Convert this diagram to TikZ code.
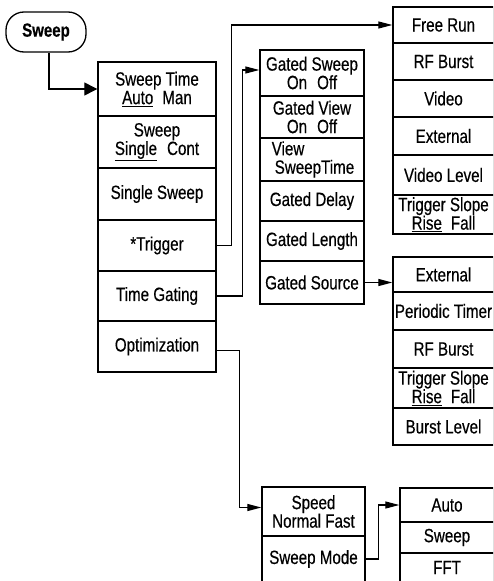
\documentclass[tikz,border=0pt]{standalone}
\usepackage{fontspec}
\setmainfont{Liberation Sans}[FakeStretch=0.79,FakeBold=0.4]
\usetikzlibrary{arrows.meta}
\begin{document}
\begin{tikzpicture}[x=1pt,y=-1pt,
  box/.style={draw, line width=1.4pt, inner sep=0pt, align=center,
    font=\fontsize{19.2}{18.5}\selectfont},
  cA/.style={box, minimum width=118pt},
  cB/.style={box, minimum width=104pt},
  cC/.style={box, minimum width=101pt},
  cD/.style={box, minimum width=103pt},
  cE/.style={box, minimum width=94pt},
  conn/.style={line width=1.2pt, -{Triangle[length=14pt,width=7pt]}},
  bigconn/.style={line width=1.3pt, -{Triangle[length=13pt,width=13pt]}}]
\useasboundingbox (0,0) rectangle (493,581);
\clip (0,0) rectangle (493,581);

% root
\node[draw, line width=1.3pt, rounded corners=18pt, minimum width=80pt,
  minimum height=40pt, inner sep=0pt,
  font=\bfseries\fontsize{19}{18}\selectfont] (sweep) at (46,32) {Sweep};

% column 1
\node[cA, minimum height=54pt] (st) at (157,89) {Sweep Time\\\underline{Auto}\hspace{9pt}Man};
\node[cA, minimum height=52pt] (sw) at (157,142) {Sweep\\\underline{Single}\hspace{10pt}Cont};
\node[cA, minimum height=52pt] (ss) at (157,194) {Single Sweep};
\node[cA, minimum height=51pt] (tr) at (157,245.5) {*Trigger};
\node[cA, minimum height=50pt] (tg) at (157,296) {Time Gating};
\node[cA, minimum height=51pt] (op) at (157,346.5) {Optimization};

% column 2 (gating)
\node[cB, minimum height=46pt] (gs) at (312,73) {Gated Sweep\\On\hspace{10pt}Off};
\node[cB, minimum height=42pt] (gv) at (312,117) {Gated View\\On\hspace{10pt}Off};
\node[cB, minimum height=43pt, align=left] (vst) at (312,159.5) {\hspace*{2pt}View\\\hspace*{5pt}SweepTime};
\node[cB, minimum height=40pt] (gd) at (312,201) {Gated Delay};
\node[cB, minimum height=40pt] (gl) at (312,241) {Gated Length};
\node[cB, minimum height=43pt] (gsrc) at (312,282.5) {Gated Source};

% column 3 (trigger)
\node[cC, minimum height=36pt] (fr) at (443.5,25) {Free Run};
\node[cC, minimum height=37pt] (rf) at (443.5,61.5) {RF Burst};
\node[cC, minimum height=37pt] (vid) at (443.5,98.5) {Video};
\node[cC, minimum height=38pt] (ext) at (443.5,136) {External};
\node[cC, minimum height=40pt] (vl) at (443.5,175) {Video Level};
\node[cC, minimum height=39pt] (ts) at (443.5,214.5) {Trigger Slope\\\underline{Rise}\hspace{9pt}Fall};

% column 4 (gate source)
\node[cC, minimum height=35pt] (ext2) at (443.5,274.5) {External};
\node[cC, minimum height=38pt] (pt) at (443.5,311) {Periodic Timer};
\node[cC, minimum height=38pt] (rf2) at (443.5,349) {RF Burst};
\node[cC, minimum height=40pt] (ts2) at (443.5,388) {Trigger Slope\\\underline{Rise}\hspace{9pt}Fall};
\node[cC, minimum height=37pt] (bl) at (443.5,426.5) {Burst Level};

% optimization
\node[cD, minimum height=49pt] (spd) at (313.5,511.5) {Speed\\Normal Fast};
\node[cD, minimum height=46pt] (sm) at (313.5,559) {Sweep Mode};
\node[cE, minimum height=34pt] (auto) at (447,505) {Auto};
\node[cE, minimum height=31pt] (swp) at (447,537.5) {Sweep};
\node[cE, minimum height=29pt] (fft) at (447,567.5) {FFT};

% connectors
\draw[bigconn] ([xshift=3pt]sweep.south) |- (st.west);
\draw[conn] (tr.east) -- ++(15,0) |- (fr.west);
\draw[conn] (tg.east) -- ++(26,0) |- ([yshift=3pt]gs.west);
\draw[conn] (gsrc.east) -- (gsrc.east -| ext2.west);
\draw[conn] ([yshift=-4pt]op.east) -- ++(23,0) |- ([yshift=4pt]spd.west);
\draw[conn] (sm.east) -- ++(13,0) |- (auto.west);
\end{tikzpicture}
\end{document}
